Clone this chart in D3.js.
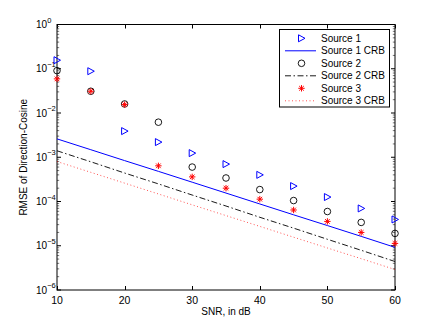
<!DOCTYPE html>
<html><head><meta charset="utf-8">
<script src="https://cdn.jsdelivr.net/npm/d3@7"></script>
<style>
html,body{margin:0;padding:0;background:#fff;}
svg{display:block;font-family:"Liberation Sans",Arial,Helvetica,sans-serif;}
</style></head>
<body>
<svg id="chart" width="436" height="327"></svg>
<script>
// ---- data ----
const snr = [10, 15, 20, 25, 30, 35, 40, 45, 50, 55, 60];
const source1 = [0.156, 0.088, 0.0039, 0.0022, 0.00124, 0.0007, 0.0004, 0.000223, 0.000126, 0.0000697, 0.0000393];
const source2 = [0.0906, 0.031, 0.016, 0.0062, 0.0006, 0.00034, 0.000186, 0.000105, 0.0000594, 0.0000337, 0.000019];
const source3 = [0.059, 0.031, 0.0155, 0.00064, 0.00036, 0.0002, 0.000113, 0.0000643, 0.0000355, 0.00002, 0.0000113];
const crb1 = [2.6e-3, 1.48e-3, 8.4e-4, 4.8e-4, 2.73e-4, 1.55e-4, 8.8e-5, 5.0e-5, 2.86e-5, 1.63e-5, 9.2e-6];
const crb2 = [1.4e-3, 7.9e-4, 4.4e-4, 2.5e-4, 1.4e-4, 7.9e-5, 4.4e-5, 2.5e-5, 1.4e-5, 7.9e-6, 4.4e-6];
const crb3 = [8.0e-4, 4.56e-4, 2.6e-4, 1.48e-4, 8.4e-5, 4.8e-5, 2.74e-5, 1.56e-5, 8.9e-6, 5.1e-6, 2.9e-6];
const xTicks = [10, 20, 30, 40, 50, 60];
const yExponents = [0, -1, -2, -3, -4, -5, -6];
const legendLabels = ["Source 1", "Source 1 CRB", "Source 2", "Source 2 CRB", "Source 3", "Source 3 CRB"];
const xLabel = "SNR, in dB";
const yLabel = "RMSE of Direction-Cosine";

// ---- layout ----
const L = 57, R = 395, T = 24.5, B = 290;
const svg = d3.select("#chart");
const x = d3.scaleLinear().domain([10, 60]).range([L, R]);
const y = d3.scaleLog().domain([1e-6, 1]).range([B, T]);

const blue = "#0000ff", red = "#ff0000", black = "#000";

// ticks
const g = svg.append("g");
const majorLen = 4, minorLen = 2.2;
xTicks.forEach(v => {
  const px = Math.round(x(v)) + 0.5;
  g.append("line").attr("x1", px).attr("x2", px).attr("y1", B).attr("y2", B - majorLen).attr("stroke", black);
  g.append("line").attr("x1", px).attr("x2", px).attr("y1", T).attr("y2", T + majorLen).attr("stroke", black);
  g.append("text").attr("x", x(v)).attr("y", B + 13.5).attr("text-anchor", "middle")
    .attr("font-size", 10.5).text(v);
});
yExponents.forEach(e => {
  const py = y(Math.pow(10, e));
  [[L, L + majorLen], [R, R - majorLen]].forEach(([a, b]) =>
    g.append("line").attr("x1", a).attr("x2", b).attr("y1", py).attr("y2", py).attr("stroke", black));
  const t = g.append("text").attr("x", 36).attr("y", py + 3.5).attr("font-size", 10);
  t.append("tspan").text("10");
  t.append("tspan").attr("dy", -5.5).attr("font-size", 7.5).text(e === 0 ? "0" : "\u2212" + Math.abs(e));
  if (e > -6) {
    for (let k = 2; k <= 9; k++) {
      const my = y(k * Math.pow(10, e - 1));
      [[L, L + minorLen], [R, R - minorLen]].forEach(([a, b]) =>
        g.append("line").attr("x1", a).attr("x2", b).attr("y1", my).attr("y2", my)
          .attr("stroke", "#555").attr("stroke-width", 0.8));
    }
  }
});

// axis box
svg.append("rect").attr("x", L).attr("y", T).attr("width", R - L).attr("height", B - T)
  .attr("fill", "none").attr("stroke", black).attr("stroke-width", 1);

// axis labels
svg.append("text").attr("x", (L + R) / 2).attr("y", 315).attr("text-anchor", "middle")
  .attr("font-size", 10).text(xLabel);
svg.append("text").attr("transform", `translate(27,${(T + B) / 2}) rotate(-90)`)
  .attr("text-anchor", "middle").attr("font-size", 10).text(yLabel);

// lines
const line = d3.line().x((d, i) => x(snr[i])).y(d => y(d));
const plot = svg.append("g");
plot.append("path").attr("d", line(crb1)).attr("fill", "none").attr("stroke", blue).attr("stroke-width", 1);
plot.append("path").attr("d", line(crb2)).attr("fill", "none").attr("stroke", black).attr("stroke-width", 0.9)
  .attr("stroke-dasharray", "6,2.5,1.5,2.5");
plot.append("path").attr("d", line(crb3)).attr("fill", "none").attr("stroke", red).attr("stroke-width", 0.9)
  .attr("stroke-dasharray", "1,2.5").attr("opacity", 0.75);

// markers
function tri(sel, cx, cy) {
  sel.append("path").attr("d", `M${cx - 3},${cy - 3.5}L${cx + 3.5},${cy}L${cx - 3},${cy + 3.5}Z`)
    .attr("fill", "none").attr("stroke", blue).attr("stroke-width", 1);
}
function circ(sel, cx, cy) {
  sel.append("circle").attr("cx", cx).attr("cy", cy).attr("r", 3.3)
    .attr("fill", "none").attr("stroke", black).attr("stroke-width", 0.9);
}
function star(sel, cx, cy) {
  const r = 3.2, d = 2.3;
  sel.append("path").attr("d",
    `M${cx - r},${cy}L${cx + r},${cy}M${cx},${cy - r}L${cx},${cy + r}` +
    `M${cx - d},${cy - d}L${cx + d},${cy + d}M${cx - d},${cy + d}L${cx + d},${cy - d}`)
    .attr("stroke", red).attr("stroke-width", 1).attr("fill", "none");
}
snr.forEach((s, i) => tri(plot, x(s), y(source1[i])));
snr.forEach((s, i) => circ(plot, x(s), y(source2[i])));
snr.forEach((s, i) => star(plot, x(s), y(source3[i])));

// legend
const lg = svg.append("g");
lg.append("rect").attr("x", 279.5).attr("y", 29.5).attr("width", 110).attr("height", 77.5)
  .attr("fill", "#fff").attr("stroke", black).attr("stroke-width", 1);
const rowY = i => 38.3 + i * 12.5;
const lx1 = 285, lx2 = 316, lm = 301.5;
tri(lg, lm, rowY(0));
lg.append("line").attr("x1", lx1).attr("x2", lx2).attr("y1", rowY(1)).attr("y2", rowY(1)).attr("stroke", blue);
circ(lg, lm, rowY(2));
lg.append("line").attr("x1", lx1).attr("x2", lx2).attr("y1", rowY(3)).attr("y2", rowY(3)).attr("stroke", black)
  .attr("stroke-width", 0.9).attr("stroke-dasharray", "6,2.5,1.5,2.5");
star(lg, lm, rowY(4));
lg.append("line").attr("x1", lx1).attr("x2", lx2).attr("y1", rowY(5)).attr("y2", rowY(5)).attr("stroke", red)
  .attr("stroke-width", 0.9).attr("stroke-dasharray", "1,2.5").attr("opacity", 0.75);
legendLabels.forEach((t, i) => {
  lg.append("text").attr("x", 321).attr("y", rowY(i) + 3.6).attr("font-size", 10).text(t);
});
</script>
</body></html>
